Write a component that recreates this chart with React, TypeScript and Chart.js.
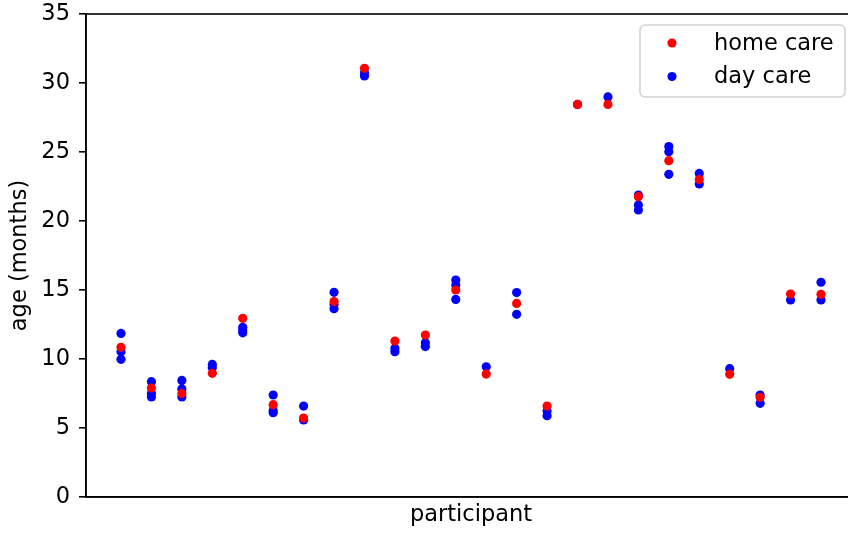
import React, { useEffect, useRef } from "react";
import { Chart, registerables } from "chart.js";

Chart.register(...registerables);

const participants = [1, 2, 3, 4, 5, 6, 7, 8, 9, 10, 11, 12, 13, 14, 15, 16, 17, 18, 19, 20, 21, 22, 23, 24];

const homeCare = [
  10.85, 7.9, 7.5, 8.96, 12.95, 6.69, 5.72, 14.16, 31.06, 11.3, 11.74, 15.0,
  8.91, 14.03, 6.59, 28.45, 28.45, 21.76, 24.37, 23.0, 8.89, 7.22, 14.71, 14.69,
];

const dayCare = [
  [11.85, 10.53, 9.98],
  [8.36, 7.51, 7.25],
  [8.45, 7.83, 7.25],
  [9.61, 9.37],
  [12.3, 12.1, 11.9],
  [7.39, 6.26, 6.11],
  [6.59, 5.58],
  [14.83, 13.96, 13.65],
  [30.75, 30.51],
  [10.77, 10.53],
  [11.18, 10.9],
  [15.72, 15.36, 14.32],
  [9.44],
  [14.81, 13.24],
  [6.23, 5.89],
  [28.45],
  [28.99],
  [21.88, 21.16, 20.8],
  [25.39, 25.02, 23.38],
  [23.45, 22.68],
  [9.3],
  [7.39, 6.79],
  [14.28],
  [15.56, 14.28],
];

const yTicks = [0, 5, 10, 15, 20, 25, 30, 35];
const seriesLabels = ["home care", "day care"];
const seriesColors = ["#ff0000", "#0000ff"];
const xLabel = "participant";
const yLabel = "age (months)";

const FONT = "'DejaVu Sans', sans-serif";
const FS = 22.5;

const framePlugin = {
  id: "frame",
  afterDraw(chart: any) {
    const { ctx, chartArea } = chart;
    ctx.save();
    ctx.strokeStyle = "#000";
    ctx.lineWidth = 1.6;
    ctx.strokeRect(chartArea.left, chartArea.top, chartArea.right - chartArea.left, chartArea.bottom - chartArea.top);
    ctx.restore();

    // legend (matplotlib style, inside axes)
    const x0 = 640, y0 = 25, w = 205, h = 72, r = 5;
    ctx.save();
    ctx.beginPath();
    ctx.moveTo(x0 + r, y0);
    ctx.lineTo(x0 + w - r, y0);
    ctx.arcTo(x0 + w, y0, x0 + w, y0 + r, r);
    ctx.lineTo(x0 + w, y0 + h - r);
    ctx.arcTo(x0 + w, y0 + h, x0 + w - r, y0 + h, r);
    ctx.lineTo(x0 + r, y0 + h);
    ctx.arcTo(x0, y0 + h, x0, y0 + h - r, r);
    ctx.lineTo(x0, y0 + r);
    ctx.arcTo(x0, y0, x0 + r, y0, r);
    ctx.closePath();
    ctx.fillStyle = "rgba(255,255,255,0.8)";
    ctx.fill();
    ctx.strokeStyle = "#d2d2d2";
    ctx.lineWidth = 1.6;
    ctx.stroke();
    chart.data.datasets.forEach((ds: any, i: number) => {
      const cy = 43 + i * 33.5;
      ctx.beginPath();
      ctx.arc(672, cy, 4.6, 0, Math.PI * 2);
      ctx.fillStyle = ds.backgroundColor;
      ctx.fill();
      ctx.fillStyle = "#000";
      ctx.font = `${FS}px ${FONT}`;
      ctx.textAlign = "left";
      ctx.textBaseline = "middle";
      ctx.fillText(ds.label, 714, cy + 1);
    });
    ctx.restore();
  },
};

export default function App() {
  const ref = useRef<HTMLCanvasElement | null>(null);

  useEffect(() => {
    document.body.style.margin = "0";
    const homePts = participants.map((p, i) => ({ x: p, y: homeCare[i] }));
    const dayPts: { x: number; y: number }[] = [];
    participants.forEach((p, i) => dayCare[i].forEach((v) => dayPts.push({ x: p, y: v })));

    const first = participants[0];
    const last = participants[participants.length - 1];

    const chart = new Chart(ref.current as HTMLCanvasElement, {
      type: "scatter",
      data: {
        datasets: [
          {
            label: seriesLabels[0],
            data: homePts,
            backgroundColor: seriesColors[0],
            borderWidth: 0,
            pointRadius: 4.6,
          },
          {
            label: seriesLabels[1],
            data: dayPts,
            backgroundColor: seriesColors[1],
            borderWidth: 0,
            pointRadius: 4.6,
          },
        ],
      },
      options: {
        responsive: false,
        animation: false,
        devicePixelRatio: 1,
        layout: { padding: { left: 0, top: 14, right: 14, bottom: 0 } },
        plugins: { legend: { display: false }, tooltip: { enabled: false } },
        scales: {
          x: {
            type: "linear",
            min: first - 0.05 * (last - first),
            max: last + 0.05 * (last - first),
            grid: { display: false, drawTicks: false },
            border: { display: true, color: "#000", width: 1.6 },
            ticks: { display: false },
            title: {
              display: true,
              text: xLabel,
              color: "#000",
              font: { family: FONT, size: FS },
              padding: { top: 0, bottom: 4 },
            },
            afterFit: (s: any) => {
              s.height = 36;
              s.paddingLeft = 0;
              s.paddingRight = 0;
            },
          },
          y: {
            min: 0,
            max: 35,
            afterBuildTicks: (s: any) => {
              s.ticks = yTicks.map((v) => ({ value: v }));
            },
            grid: { display: true, drawOnChartArea: false, drawTicks: true, tickLength: 7, color: "#000", lineWidth: 1.6 },
            border: { display: true, color: "#000", width: 1.6 },
            ticks: {
              color: "#000",
              font: { family: FONT, size: FS },
              padding: 9,
            },
            title: {
              display: true,
              text: yLabel,
              color: "#000",
              font: { family: FONT, size: FS },
              padding: { top: 7, bottom: 0 },
            },
            afterFit: (s: any) => {
              s.width = 86;
              s.paddingTop = 0;
              s.paddingBottom = 0;
            },
          },
        },
      },
      plugins: [framePlugin],
    });
    return () => chart.destroy();
  }, []);

  return (
    <div style={{ position: "fixed", left: 0, top: 0, width: 848, height: 533, overflow: "hidden", background: "#fff" }}>
      <canvas ref={ref} width={870} height={533} style={{ display: "block" }} />
    </div>
  );
}
